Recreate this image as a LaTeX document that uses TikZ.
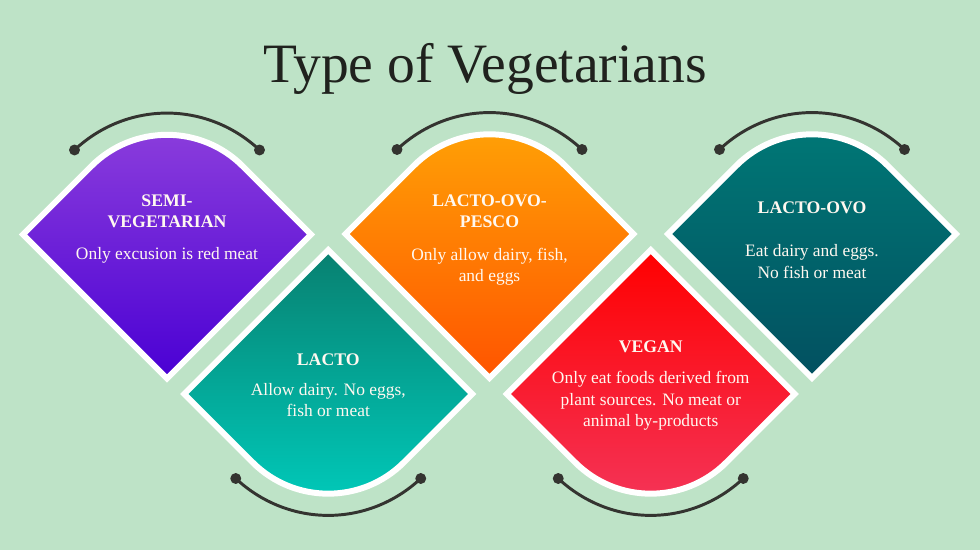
\documentclass[tikz,border=0pt]{standalone}
\usepackage{fontspec}
\setmainfont{Liberation Serif}
\usetikzlibrary{calc}
\definecolor{bggreen}{RGB}{190,227,199}
\definecolor{arcgray}{RGB}{52,52,48}
\definecolor{titleink}{RGB}{32,34,30}
\definecolor{textwhite}{RGB}{255,248,240}
\definecolor{purpletop}{RGB}{140,62,220}
\definecolor{purplebot}{RGB}{74,0,212}
\definecolor{tealtop}{RGB}{8,128,112}
\definecolor{tealbot}{RGB}{0,202,186}
\definecolor{orangetop}{RGB}{255,162,6}
\definecolor{orangebot}{RGB}{255,84,0}
\definecolor{redtop}{RGB}{255,0,0}
\definecolor{redbot}{RGB}{244,52,88}
\definecolor{petroltop}{RGB}{0,120,118}
\definecolor{petrolbot}{RGB}{2,80,96}

\tikzset{
	shapeborder/.style={draw=white, line width=4.25pt, line join=miter},
	arcline/.style={draw=arcgray, line width=2.1pt},
	dot/.style={circle, fill=arcgray, inner sep=0pt, minimum size=7.8pt},
	boxtitle/.style={text=textwhite, align=center, font=\bfseries\fontsize{12.6}{15.2}\selectfont},
	boxtext/.style={text=textwhite, align=center, font=\fontsize{12.4}{15.2}\selectfont},
}

% diamond with rounded top corner: centre, top colour, bottom colour
\newcommand{\roundtop}[3]{%
	\draw[shapeborder, top color=#2, bottom color=#3]
	($(#1)+(-144,0)$) -- ($(#1)+(-75.66,68.34)$)
	arc[start angle=135, end angle=45, radius=107]
	-- ($(#1)+(144,0)$) -- ($(#1)+(0,-144)$) -- cycle;}
% diamond with rounded bottom corner
\newcommand{\roundbottom}[3]{%
	\draw[shapeborder, top color=#2, bottom color=#3]
	($(#1)+(-144,0)$) -- ($(#1)+(0,144)$) -- ($(#1)+(144,0)$)
	-- ($(#1)+(75.66,-68.34)$)
	arc[start angle=-45, end angle=-135, radius=107] -- cycle;}

\begin{document}
\begin{tikzpicture}[x=0.025cm, y=0.025cm, line cap=round]
	% background
	\fill[bggreen] (0,0) rectangle (980,550);
	\useasboundingbox (0,0) rectangle (980,550);
	
	\node[anchor=base, text=titleink, font=\fontsize{39.5}{46}\selectfont] (title) at (485,467) {Type of Vegetarians};
	
	% centres of the five shapes
	\coordinate (semi) at (167,315.5);
	\coordinate (lacto) at (328.25,156);
	\coordinate (pesco) at (489.5,316);
	\coordinate (vegan) at (650.75,156);
	\coordinate (ovo) at (812,316);
	
	% shapes
	\roundtop{semi}{purpletop}{purplebot}
	\roundbottom{lacto}{tealtop}{tealbot}
	\roundtop{pesco}{orangetop}{orangebot}
	\roundbottom{vegan}{redtop}{redbot}
	\roundtop{ovo}{petroltop}{petrolbot}
	
	% arcs above and below
	\foreach \c in {semi, pesco, ovo}{
		\node[dot] (\c-l) at ($(\c)+(-92.5,84.5)$) {};
		\node[dot] (\c-r) at ($(\c)+(92.5,84.5)$) {};
		\draw[arcline] (\c-l.center) to[bend left=43] (\c-r.center);
	}
	\foreach \c in {lacto, vegan}{
		\node[dot] (\c-l) at ($(\c)+(-92.5,-84.5)$) {};
		\node[dot] (\c-r) at ($(\c)+(92.5,-84.5)$) {};
		\draw[arcline] (\c-l.center) to[bend right=43] (\c-r.center);
	}
	
	% texts
	\node[boxtitle] (semi-head) at ($(semi)+(0,23)$) {SEMI-\\VEGETARIAN};
	\node[boxtext] (semi-body) at ($(semi)+(0,-21.2)$) {Only excusion is red meat};
	
	\node[boxtitle] (lacto-head) at ($(lacto)+(0,34.5)$) {LACTO};
	\node[boxtext] (lacto-body) at ($(lacto)+(0,-6)$) {Allow dairy. No eggs,\\fish or meat};
	
	\node[boxtitle] (pesco-head) at ($(pesco)+(0,22.7)$) {LACTO-OVO-\\PESCO};
	\node[boxtext] (pesco-body) at ($(pesco)+(0,-32.7)$) {Only allow dairy, fish,\\and eggs};
	
	\node[boxtitle] (vegan-head) at ($(vegan)+(0,47)$) {VEGAN};
	\node[boxtext] (vegan-body) at ($(vegan)+(0,-7)$) {Only eat foods derived from\\plant sources. No meat or\\animal by-products};
	
	\node[boxtitle] (ovo-head) at ($(ovo)+(0,26)$) {LACTO-OVO};
	\node[boxtext] (ovo-body) at ($(ovo)+(0,-27.7)$) {Eat dairy and eggs.\\No fish or meat};
\end{tikzpicture}
\end{document}
